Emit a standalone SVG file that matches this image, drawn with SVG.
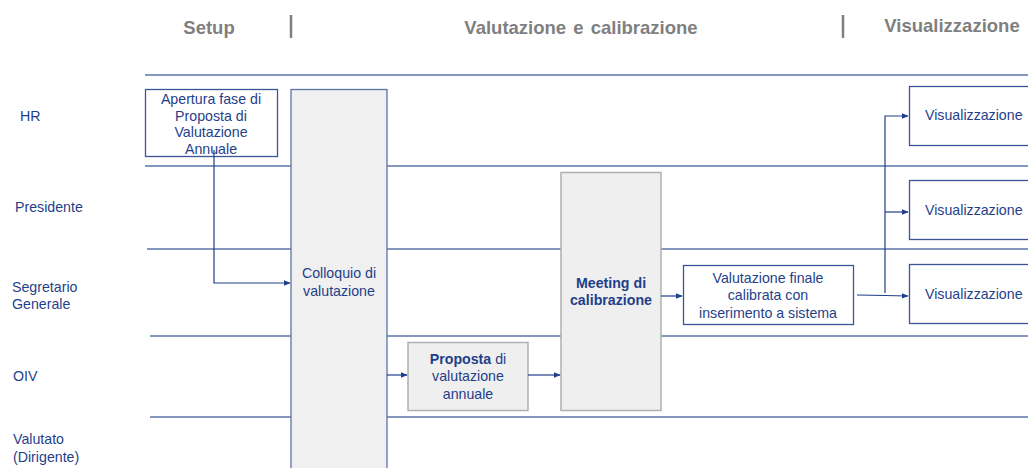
<svg xmlns="http://www.w3.org/2000/svg" width="1028" height="468" viewBox="0 0 1028 468">
<defs>
<style>
.hdr{font-family:"Liberation Sans",Arial,sans-serif;font-size:18.5px;font-weight:bold;fill:#7f7f7f;text-anchor:middle}
.sep{stroke:#7f7f7f;stroke-width:2.5}
.lane{stroke:#5b74a8;stroke-width:1.5;fill:none}
.lbl{font-family:"Liberation Sans",Arial,sans-serif;font-size:14.2px;fill:#1f3f8a}
.t{font-family:"Liberation Sans",Arial,sans-serif;font-size:14.2px;fill:#1f3f8a;text-anchor:middle}
.b{font-weight:bold}
.wbox{fill:#ffffff;stroke:#3c5596;stroke-width:1.3}
.gbox{fill:#f0f0f0;stroke:#5b74a8;stroke-width:1.3}
.grbox{fill:#efefef;stroke:#b0b0b0;stroke-width:1.5}
.conn{stroke:#1f3f8a;stroke-width:1.2;fill:none}
</style>
<marker id="arr" viewBox="0 0 10 10" refX="9" refY="5" markerWidth="7" markerHeight="7" orient="auto" markerUnits="userSpaceOnUse">
<path d="M0,1 L10,5 L0,9 z" fill="#1f3f8a"/>
</marker>
</defs>
<rect width="1028" height="468" fill="#ffffff"/>
<g id="headers">
<text class="hdr" x="209" y="34">Setup</text>
<line class="sep" x1="291" y1="15" x2="291" y2="38"/>
<text class="hdr" x="581" y="34" word-spacing="2">Valutazione e calibrazione</text>
<line class="sep" x1="843" y1="15" x2="843" y2="38"/>
<text class="hdr" x="952" y="32">Visualizzazione</text>
</g>
<g id="lanes">
<line class="lane" x1="145" y1="75" x2="1028" y2="75"/>
<line class="lane" x1="145" y1="166" x2="1028" y2="166"/>
<line class="lane" x1="147" y1="249" x2="1028" y2="249"/>
<line class="lane" x1="150" y1="336" x2="1028" y2="336"/>
<line class="lane" x1="150" y1="417" x2="1028" y2="417"/>
<text class="lbl" x="20" y="121">HR</text>
<text class="lbl" x="15" y="212">Presidente</text>
<text class="lbl" x="12" y="292">Segretario</text>
<text class="lbl" x="12" y="309">Generale</text>
<text class="lbl" x="13" y="381">OIV</text>
<text class="lbl" x="13" y="444">Valutato</text>
<text class="lbl" x="13" y="462">(Dirigente)</text>
</g>
<g id="n-apertura">
<rect class="wbox" x="145.5" y="89.5" width="132" height="67"/>
<text class="t" x="211" y="104">Apertura fase di</text>
<text class="t" x="211" y="121">Proposta di</text>
<text class="t" x="211" y="137">Valutazione</text>
<text class="t" x="211" y="154">Annuale</text>
</g>
<g id="n-colloquio">
<rect class="gbox" x="291" y="89.5" width="96" height="390"/>
<text class="t" x="339" y="278">Colloquio di</text>
<text class="t" x="339" y="296">valutazione</text>
</g>
<g id="n-proposta">
<rect class="grbox" x="408" y="342.5" width="120" height="68"/>
<text class="t" x="468" y="364"><tspan class="b">Proposta</tspan> di</text>
<text class="t" x="468" y="381">valutazione</text>
<text class="t" x="468" y="399">annuale</text>
</g>
<g id="n-meeting">
<rect class="grbox" x="561" y="172.5" width="100" height="238"/>
<text class="t b" x="611" y="288">Meeting di</text>
<text class="t b" x="611" y="305">calibrazione</text>
</g>
<g id="n-finale">
<rect class="wbox" x="683.5" y="265.5" width="170" height="59"/>
<text class="t" x="768" y="283">Valutazione finale</text>
<text class="t" x="768" y="300">calibrata con</text>
<text class="t" x="768" y="318">inserimento a sistema</text>
</g>
<g id="n-vis1">
<rect class="wbox" x="909.5" y="86.5" width="130" height="59"/>
<text class="lbl" x="925" y="120">Visualizzazione</text>
</g>
<g id="n-vis2">
<rect class="wbox" x="909.5" y="180.5" width="130" height="59"/>
<text class="lbl" x="925" y="215">Visualizzazione</text>
</g>
<g id="n-vis3">
<rect class="wbox" x="909.5" y="264.5" width="130" height="59"/>
<text class="lbl" x="925" y="299">Visualizzazione</text>
</g>
<g id="connectors">
<polyline class="conn" points="214,150 214,283 290,283" marker-end="url(#arr)"/>
<line class="conn" x1="387" y1="375" x2="407" y2="375" marker-end="url(#arr)"/>
<line class="conn" x1="528" y1="375" x2="560" y2="375" marker-end="url(#arr)"/>
<line class="conn" x1="661" y1="296" x2="682" y2="296" marker-end="url(#arr)"/>
<polyline class="conn" points="857,295 885,295.5 908,296" marker-end="url(#arr)"/>
<polyline class="conn" points="885,293 885,116 908,116" marker-end="url(#arr)"/>
<line class="conn" x1="885" y1="212" x2="908" y2="212" marker-end="url(#arr)"/>
</g>
</svg>
